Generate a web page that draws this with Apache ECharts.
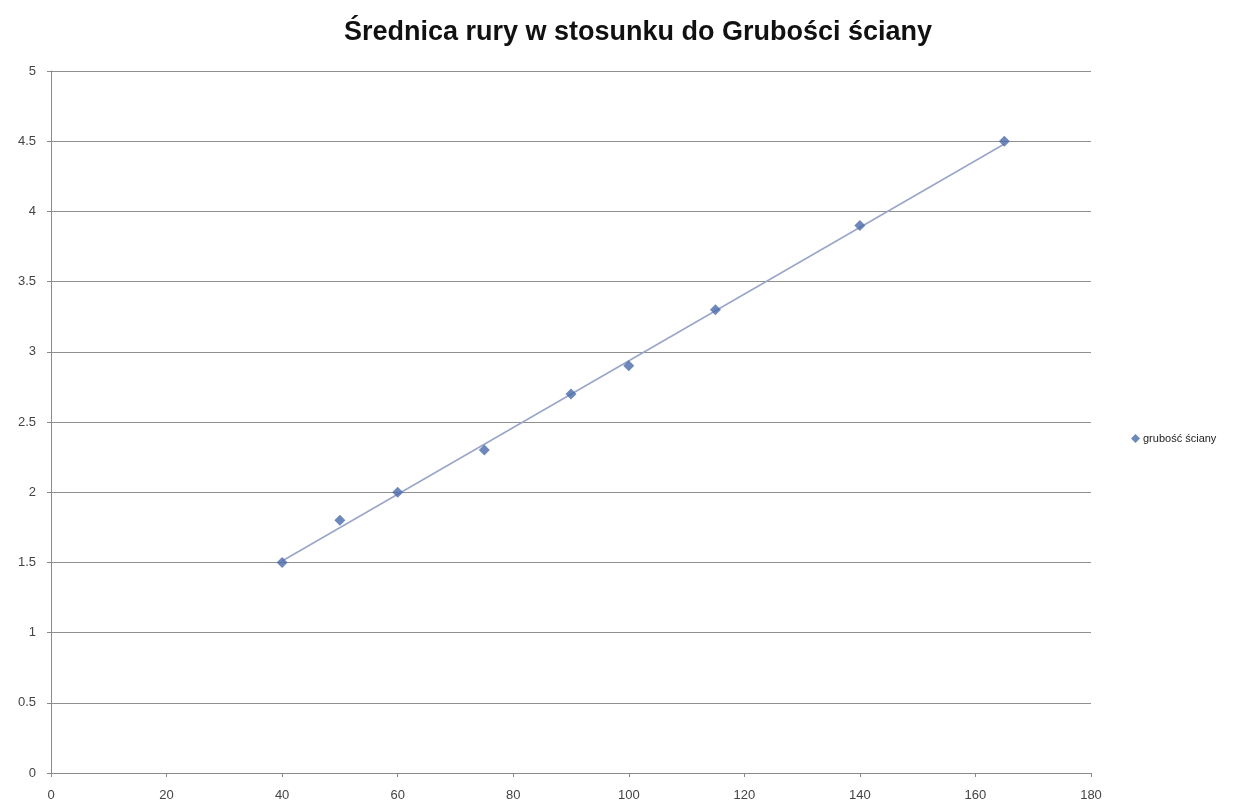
<!DOCTYPE html>
<html>
<head>
<meta charset="utf-8">
<script src="https://cdn.jsdelivr.net/npm/echarts@6/dist/echarts.min.js"></script>
<style>
  html, body { margin: 0; padding: 0; background: #fff; }
  #chart { width: 1238px; height: 802px; }
</style>
</head>
<body>
<div id="chart"></div>
<script>
// Pipe diameter (x) vs wall thickness (y)
const diameters = [40, 50, 60, 75, 90, 100, 115, 140, 165];
const thickness = [1.5, 1.8, 2.0, 2.3, 2.7, 2.9, 3.3, 3.9, 4.5];
// Linear trendline end points
const trendX = [40, 165];
const trendY = [1.51, 4.48];

const seriesName = 'grubość ściany';
const titleText = 'Średnica rury w stosunku do Grubości ściany';

const points = diameters.map((d, i) => [d, thickness[i]]);
const trend = trendX.map((d, i) => [d, trendY[i]]);

const chart = echarts.init(document.getElementById('chart'), null, { renderer: 'canvas' });
chart.setOption({
  animation: false,
  backgroundColor: '#ffffff',
  title: {
    text: titleText,
    left: 633,
    textAlign: 'center',
    top: 14,
    textStyle: { fontFamily: 'Liberation Sans, Arial, sans-serif', fontWeight: 'bold', fontSize: 27, color: '#111' }
  },
  legend: {
    data: [{ name: seriesName, icon: 'diamond' }],
    left: 1126,
    top: 428,
    itemWidth: 9,
    itemHeight: 9,
    itemGap: 4,
    textStyle: { fontFamily: 'Liberation Sans, Arial, sans-serif', fontSize: 11, color: '#222', padding: [0, 0, 0, -2] }
  },
  grid: { left: 51, right: 147, top: 71, bottom: 29, containLabel: false },
  xAxis: {
    type: 'value',
    min: 0, max: 180, interval: 20,
    axisLine: { show: true, lineStyle: { color: '#8a8a8a', width: 1 } },
    axisTick: { show: true, length: 4, inside: false, lineStyle: { color: '#8a8a8a' } },
    axisLabel: { color: '#444', fontSize: 13, fontFamily: 'Liberation Sans, Arial, sans-serif', margin: 16 },
    splitLine: { show: false }
  },
  yAxis: {
    type: 'value',
    min: 0, max: 5, interval: 0.5,
    axisLine: { show: true, lineStyle: { color: '#8a8a8a', width: 1 } },
    axisTick: { show: true, length: 4, inside: false, lineStyle: { color: '#8a8a8a' } },
    axisLabel: { color: '#444', fontSize: 13, fontFamily: 'Liberation Sans, Arial, sans-serif', margin: 15 },
    splitLine: { show: true, lineStyle: { color: '#909090', width: 1 } }
  },
  series: [
    {
      name: 'trend',
      type: 'line',
      data: trend,
      symbol: 'none',
      silent: true,
      lineStyle: { color: '#9aa5c8', width: 1.5 },
      z: 2
    },
    {
      name: seriesName,
      type: 'scatter',
      data: points,
      symbol: 'diamond',
      symbolSize: 11,
      itemStyle: { color: '#4a6aab' },
      z: 3
    }
  ]
});
</script>
</body>
</html>
